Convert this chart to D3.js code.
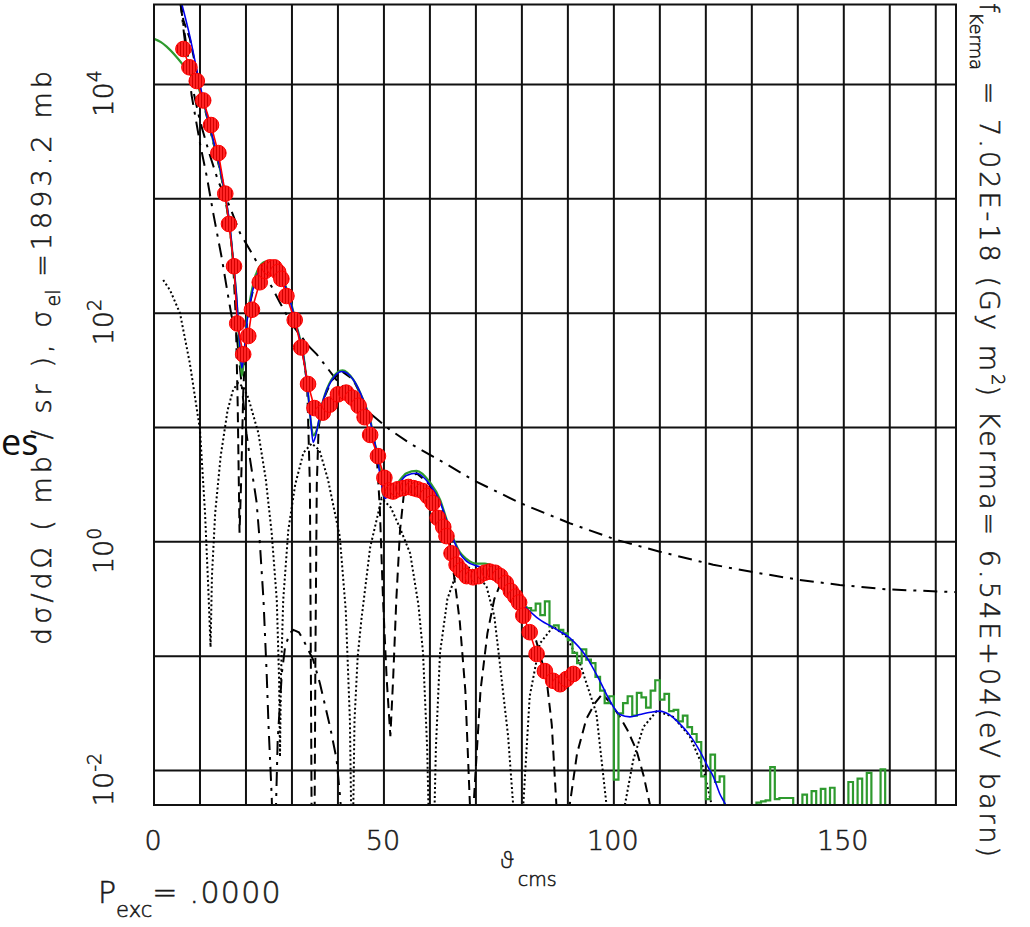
<!DOCTYPE html>
<html>
<head>
<meta charset="utf-8">
<script src="https://cdn.jsdelivr.net/npm/d3@7"></script>
<style>
  body { margin: 0; background: #fff; }
  svg { display: block; }
  text { font-family: "DejaVu Sans", Roboto, sans-serif; font-weight: 200; fill: #1a1a1a; stroke: #1a1a1a; stroke-width: 0.55px; }
</style>
</head>
<body>
<svg id="chart" width="1030" height="927"></svg>
<script>
// [angle (deg), log10 of cross section (mb/sr)]
const dataPoints = [[6.4,4.31],[7.7,4.15],[9.3,4.03],[10.7,3.86],[12.4,3.645],[14.0,3.40],[15.5,3.045],[16.3,2.78],[17.4,2.41],
  [18.1,1.91],[19.4,1.64],[20.5,1.80],[21.3,2.03],[23.0,2.27],[24.2,2.37],[25.2,2.40],[26.2,2.40],[27.0,2.36],[27.7,2.30],
  [28.8,2.15],[30.6,1.94],[32.0,1.70],[33.5,1.38],[34.9,1.17],[36.7,1.13],[38.2,1.20],[40.0,1.29],[41.8,1.305],[43.2,1.26],
  [44.5,1.19],[45.8,1.09],[47.0,0.935],[48.7,0.75],[50.1,0.56],[51.2,0.45],[52.0,0.44],[53.0,0.46],[54.2,0.47],[55.3,0.48],
  [56.4,0.47],[57.3,0.46],[58.4,0.445],[59.5,0.40],[60.6,0.34],[61.7,0.21],[62.9,0.13],[63.6,0.05],[64.7,-0.10],[65.8,-0.20],
  [66.8,-0.25],[68.0,-0.30],[69.4,-0.31],[70.6,-0.30],[71.9,-0.27],[73.0,-0.26],[74.2,-0.27],[75.3,-0.30],[76.5,-0.36],
  [77.6,-0.43],[78.6,-0.48],[79.4,-0.53],[80.3,-0.645],[81.7,-0.79],[83.2,-0.98],[85.0,-1.13],[86.8,-1.215],[88.3,-1.245],
  [89.7,-1.20],[91.2,-1.155]];

const fitBlue = [[6.0,4.71],[7.8,4.42],[9.6,4.07],[11.1,3.80],[12.9,3.51],[14.3,3.28],[15.4,3.05],[16.5,2.76],[17.2,2.47],
  [18.0,2.12],[18.6,1.75],[19.1,1.52],[19.6,1.65],[20.2,1.92],[20.9,2.09],[22.0,2.28],[23.0,2.38],[24.6,2.43],[26.0,2.41],
  [27.4,2.34],[28.5,2.24],[29.6,2.11],[31.0,1.88],[32.5,1.62],[33.5,1.30],[34.1,1.05],[34.6,0.87],[35.1,0.92],[35.8,1.05],
  [36.8,1.24],[38.6,1.41],[40.9,1.49],[43.3,1.42],[45.5,1.24],[47.0,1.06],[48.4,0.78],[49.3,0.55],[50.2,0.38],[51.2,0.42],
  [52.7,0.48],[54.9,0.58],[57.1,0.60],[60.0,0.50],[62.2,0.35],[63.6,0.19],[65.1,0.02],[66.5,-0.10],[68.0,-0.17],[70.1,-0.21],
  [73.0,-0.23],[75.9,-0.31],[79.6,-0.52],[83.2,-0.66],[86.8,-0.75],[90.4,-0.84],[94.1,-1.01],[97.0,-1.22],[99.0,-1.38],
  [101.3,-1.51],[103.5,-1.53],[105.7,-1.51],[108.0,-1.49],[110.0,-1.48],[112.0,-1.51],[114.3,-1.59],[116.5,-1.69],
  [118.7,-1.83],[120.5,-1.97],[121.6,-2.05],[123.0,-2.20],[124.5,-2.32],[125.5,-2.45]];

const greenSmooth = [[0,4.40],[1.5,4.37],[2.75,4.33],[4.9,4.24],[7.1,4.13],[9.3,4.01],[11.1,3.79],[12.9,3.50],[14.3,3.27],
  [15.4,3.04],[16.5,2.75],[17.2,2.46],[18.0,2.10],[18.6,1.70],[19.1,1.45],[19.6,1.62],[20.2,1.95],[20.9,2.12],[22.0,2.32],
  [23.0,2.41],[24.4,2.45],[26.0,2.43],[27.4,2.35],[28.5,2.25],[29.6,2.12],[31.0,1.89],[32.5,1.63],[33.5,1.30],[34.1,1.05],
  [34.6,0.93],[35.4,0.98],[36.8,1.24],[38.6,1.42],[41.0,1.50],[43.3,1.42],[45.5,1.24],[47.0,1.07],[48.4,0.78],[49.5,0.54],
  [49.9,0.40],[50.6,0.41],[52.7,0.50],[54.9,0.60],[57.1,0.62],[60.0,0.52],[62.2,0.37],[63.6,0.20],[65.1,0.03],[66.5,-0.09],
  [68.0,-0.15],[70.0,-0.19],[72.0,-0.19],[74.0,-0.22],[76.0,-0.32]];

// histogram bins (bin start, log10); -9 = empty bin
const greenHist = [[76,-0.36],[77,-0.42],[78,-0.47],[79,-0.54],[80,-0.57],[81,-0.58],[82,-0.60],[83,-0.54],[84,-0.64],
  [85,-0.52],[86,-0.74],[87,-0.73],[88,-0.77],[89,-0.80],[90,-0.86],[91,-0.97],[92,-1.06],[93,-0.94],[94,-1.03],[95,-1.06],
  [96,-1.18],[97,-1.30],[98,-1.41],[99,-1.35],[100,-2.08],[101,-1.50],[102,-1.41],[103,-1.35],[104,-1.52],[105,-1.32],
  [106,-1.36],[107,-1.45],[108,-1.30],[109,-1.21],[110,-1.38],[111,-1.33],[112,-1.48],[113,-1.47],[114,-1.57],[115,-1.52],
  [116,-1.62],[117,-1.68],[118,-1.75],[119,-2.05],[120,-2.25],[121,-1.86],[122,-2.10],[123,-2.05],[124,-2.40],[125,-9],
  [131,-2.28],[132,-2.27],[133,-2.26],[134,-1.97],[135,-2.25],[136,-2.24],[137,-2.24],[138,-2.24],[139,-9],[141,-2.21],
  [142,-9],[143,-2.18],[144,-9],[145,-2.16],[146,-9],[147,-2.15],[148,-9],[151,-2.10],[152,-9],[153,-2.07],[154,-9],
  [155,-2.02],[156,-9],[158,-1.99],[159,-9],[161,-9]];

const farSide = [[5.7,4.72],[7.0,4.35],[8.5,3.95],[10.0,3.68],[12.0,3.40],[14.0,3.15],[16.5,2.93],[18.7,2.70],[20.9,2.55],
  [23.0,2.40],[25.6,2.23],[27.4,2.09],[30.0,1.90],[33.9,1.70],[35.4,1.64],[37.5,1.53],[40.0,1.40],[42.0,1.32],[46.2,1.15],
  [51.3,0.98],[55.7,0.86],[60.7,0.745],[63.6,0.68],[69.4,0.54],[79.6,0.34],[90.4,0.163],[100.6,0.017],[110.0,-0.086],
  [121.6,-0.20],[129.6,-0.26],[140.4,-0.333],[149.1,-0.377],[159.3,-0.415],[174.4,-0.44]];

const nearSide = [[5.7,4.75],[6.5,4.45],[8.2,3.90],[10.0,3.485],[11.5,3.19],[12.9,2.87],[14.7,2.49],[16.2,2.13],[16.9,1.97],
  [17.8,1.88],[19.0,1.40],[20.1,0.95],[20.9,0.72],[22.3,0.35],[23.0,0.0],[23.8,-0.50],[24.5,-1.15],[24.9,-1.60],[25.6,-2.23],
  [26.1,-3.0],[26.6,-2.20],[26.9,-1.73],[27.8,-1.15],[28.5,-0.92],[29.5,-0.80],[30.3,-0.77],[31.5,-0.79],[32.5,-0.86],
  [34.6,-1.03],[36.1,-1.24],[38.3,-1.62],[39.7,-1.90],[40.4,-2.20],[41.2,-2.60]];

const dashedCurve = [[5.8,4.72],[6.4,4.56],[7.8,4.40],[9.6,4.05],[11.1,3.78],[12.9,3.49],[14.3,3.26],[15.4,3.03],[16.5,2.74],
  [17.2,2.45],[17.8,1.95],[18.2,1.20],[18.6,0.08],[19.0,0.60],[19.4,1.30],[19.9,1.75],[20.4,1.98],[20.9,2.09],[22.0,2.28],
  [23.0,2.38],[24.6,2.43],[26.0,2.41],[27.4,2.34],[28.5,2.24],[29.6,2.11],[31.0,1.88],[32.5,1.62],[33.3,1.38],[33.9,0.50],
  [34.1,-1.0],[34.3,-2.6],[34.6,-4.0],[34.9,-2.6],[35.1,-1.0],[35.4,0.50],[35.8,1.00],[36.8,1.24],[38.6,1.41],[40.9,1.49],
  [43.3,1.42],[45.5,1.24],[47.0,1.06],[48.4,0.78],[49.1,0.30],[49.8,-0.50],[50.6,-1.20],[51.4,-1.70],[52.0,-1.20],[52.7,-0.50],
  [53.5,0.10],[54.5,0.48],[57.1,0.60],[60.0,0.50],[62.2,0.35],[64.0,0.10],[65.1,-0.25],[66.5,-0.70],[67.7,-1.30],[68.7,-2.30],
  [69.1,-3.0],[69.5,-2.30],[71.0,-1.30],[72.5,-0.80],[74.0,-0.50],[75.5,-0.35],[78.0,-0.45],[81.0,-0.62],[83.0,-0.85],
  [85.3,-1.18],[86.5,-1.60],[87.5,-2.30],[88.6,-3.0],[90.4,-2.30],[92.0,-1.85],[94.0,-1.55],[95.9,-1.41],[97.5,-1.33],
  [99.5,-1.42],[101.3,-1.53],[103.0,-1.65],[104.9,-1.82],[106.5,-2.05],[107.8,-2.29],[109.0,-2.60]];

const dottedCurve = [[2.0,2.29],[3.5,2.20],[5.65,2.00],[7.8,1.56],[10.0,0.98],[11.1,0.25],[11.8,-0.40],[12.3,-0.92],[12.6,-0.30],
  [13.3,0.25],[14.5,0.75],[16.0,1.15],[17.2,1.33],[18.3,1.39],[19.5,1.35],[20.5,1.26],[22.7,0.95],[24.3,0.55],[25.6,0.075],
  [26.7,-0.51],[27.2,-1.20],[27.4,-1.88],[27.6,-1.20],[28.1,-0.51],[29.2,0.10],[30.7,0.50],[32.5,0.78],[34.3,0.86],[36.0,0.80],
  [37.8,0.55],[40.4,0.046],[41.7,-0.60],[42.6,-1.56],[43.1,-3.0],[43.6,-1.56],[44.3,-1.00],[45.1,-0.68],[47.0,-0.05],[49.5,0.38],
  [51.5,0.30],[53.5,0.12],[55.7,-0.10],[57.5,-0.55],[58.5,-0.97],[59.4,-1.80],[60.35,-3.5],[61.3,-1.80],[62.2,-0.97],[63.8,-0.50],
  [65.8,-0.27],[67.5,-0.20],[69.5,-0.25],[72.3,-0.39],[74.0,-0.65],[75.2,-1.06],[77.0,-1.70],[78.1,-2.30],[78.6,-3.0],[80.3,-2.30],
  [81.7,-1.35],[83.9,-0.89],[86.8,-0.74],[89.7,-0.83],[92.6,-1.06],[96.2,-1.50],[98.4,-2.30],[99.0,-3.0],[102.4,-2.30],[104.2,-1.91],
  [106.4,-1.62],[109.3,-1.48],[112.9,-1.53],[116.5,-1.70],[119.4,-1.97],[121.2,-2.29],[122.0,-3.0]];

const xTickLabels = [0, 50, 100, 150];
const yTickExponents = [-2, 0, 2, 4];
const gridAngles = [10, 20, 30, 40, 50, 60, 70, 80, 90, 100, 110, 120, 130, 140, 150, 160, 170];
const gridDecades = [-2, -1, 0, 1, 2, 3, 4];

const svg = d3.select("#chart");
const x = d3.scaleLinear().domain([0, 174.4]).range([154, 956]);
const y = d3.scaleLog().domain([5e-3, 5e4]).range([805, 4.5]);
const yv = d => y(Math.pow(10, d[1]));
const line = d3.line().x(d => x(d[0])).y(yv);

const defs = svg.append("defs");
defs.append("clipPath").attr("id", "plotclip")
  .append("rect").attr("x", 154).attr("y", 4.5).attr("width", 802).attr("height", 800.5);
const hatch = defs.append("pattern").attr("id", "hatch")
  .attr("patternUnits", "userSpaceOnUse").attr("width", 3).attr("height", 4);
hatch.append("rect").attr("width", 3).attr("height", 4).attr("fill", "#ff2424");
hatch.append("rect").attr("width", 1).attr("height", 4).attr("fill", "#d40000");

// grid
const grid = svg.append("g").attr("stroke", "#111").attr("stroke-width", 2);
grid.selectAll("line.v").data(gridAngles).enter().append("line")
  .attr("x1", d => x(d)).attr("x2", d => x(d)).attr("y1", y(5e-3)).attr("y2", y(5e4));
grid.selectAll("line.h").data(gridDecades).enter().append("line")
  .attr("y1", d => y(Math.pow(10, d))).attr("y2", d => y(Math.pow(10, d))).attr("x1", x(0)).attr("x2", x(174.4));

const plot = svg.append("g").attr("clip-path", "url(#plotclip)").attr("fill", "none");

plot.append("path").datum(dottedCurve).attr("d", line)
  .attr("stroke", "#000").attr("stroke-width", 2).attr("stroke-dasharray", "2,2.5");
plot.append("path").datum(dashedCurve).attr("d", line)
  .attr("stroke", "#000").attr("stroke-width", 2).attr("stroke-dasharray", "10,6");
plot.append("path").datum(farSide).attr("d", line)
  .attr("stroke", "#000").attr("stroke-width", 2).attr("stroke-dasharray", "14,7,3,7");
plot.append("path").datum(nearSide).attr("d", line)
  .attr("stroke", "#000").attr("stroke-width", 2).attr("stroke-dasharray", "14,7,3,7");

plot.append("path").datum(greenSmooth).attr("d", d3.line().x(d => x(d[0])).y(yv).curve(d3.curveMonotoneX))
  .attr("stroke", "#2e9a2e").attr("stroke-width", 2.2);
plot.append("path").datum(greenHist).attr("d", d3.line().x(d => x(d[0])).y(yv).curve(d3.curveStepAfter))
  .attr("stroke", "#2e9a2e").attr("stroke-width", 2.2);
plot.append("path").datum(fitBlue).attr("d", d3.line().x(d => x(d[0])).y(yv).curve(d3.curveMonotoneX))
  .attr("stroke", "#0000ee").attr("stroke-width", 1.6);

plot.append("path").datum(dataPoints).attr("d", line)
  .attr("stroke", "#ff0000").attr("stroke-width", 1.6);
plot.selectAll("circle").data(dataPoints).enter().append("circle")
  .attr("cx", d => x(d[0])).attr("cy", yv).attr("r", 7.8)
  .attr("fill", "url(#hatch)").attr("stroke", "#ff0000").attr("stroke-width", 1);

// frame
svg.append("rect").attr("x", 154).attr("y", 4.5).attr("width", 802).attr("height", 800.5)
  .attr("fill", "none").attr("stroke", "#111").attr("stroke-width", 2);

// stretch the main runs of a text so that the whole text fills a length
function fitSpacing(textSel, spans, target) {
  const natural = textSel.node().getComputedTextLength();
  const n = d3.sum(spans, s => s.text().length);
  const ls = (target - natural) / n;
  spans.forEach(s => s.style("letter-spacing", ls + "px"));
}

// x tick labels
svg.selectAll("text.xt").data(xTickLabels).enter().append("text")
  .attr("x", d => x(d) - 1).attr("y", 850).attr("text-anchor", "middle")
  .style("font-size", "27px").text(d => d);

// y tick labels (rotated)
yTickExponents.forEach(e => {
  const t = svg.append("text")
    .attr("transform", "translate(113," + (y(Math.pow(10, e)) + 9) + ") rotate(-90)")
    .attr("text-anchor", "middle").style("font-size", "27px");
  t.append("tspan").text("10");
  t.append("tspan").attr("dy", -12).style("font-size", "19px").text(e);
});

// left axis title
const lt = svg.append("text").attr("transform", "translate(51,645) rotate(-90)").style("font-size", "27px");
const lt1 = lt.append("tspan").text("d\u03c3/d\u03a9 ( mb / sr ), \u03c3");
lt.append("tspan").attr("dy", 9).style("font-size", "19px").text("el");
const lt2 = lt.append("tspan").attr("dy", -9).text(" =1893.2 mb");
fitSpacing(lt, [lt1, lt2], 578);

// right text
const rt = svg.append("text").attr("transform", "translate(980,3) rotate(90)").style("font-size", "27px");
rt.append("tspan").text("f");
rt.append("tspan").attr("dy", 10).style("font-size", "18px").text("Kerma");
const rt1 = rt.append("tspan").attr("dy", -10).text(" = 7.02E-18 (Gy m");
rt.append("tspan").attr("dy", -12).style("font-size", "18px").text("2");
const rt2 = rt.append("tspan").attr("dy", 12).text(") Kerma= 6.54E+04(eV barn)");
fitSpacing(rt, [rt1, rt2], 857);

// bottom texts
const pt = svg.append("text").attr("x", 98).attr("y", 903).style("font-size", "30px");
pt.append("tspan").text("P");
pt.append("tspan").attr("dy", 14).style("font-size", "21px").text("exc");
const pt1 = pt.append("tspan").attr("dy", -14).text("= .0000");
fitSpacing(pt, [pt1], 184);

const th = svg.append("text").attr("x", 500).attr("y", 868).style("font-size", "24px");
th.append("tspan").text("\u03d1");
th.append("tspan").attr("dy", 18).attr("dx", 4).style("font-size", "19px").text("cms");

// stray slide text at the left edge
svg.append("text").attr("x", 1).attr("y", 455)
  .style("font-family", "'Open Sans', sans-serif").style("font-weight", 400).style("stroke", "none")
  .style("font-size", "36px").style("fill", "#111").text("es");
</script>
</body>
</html>
